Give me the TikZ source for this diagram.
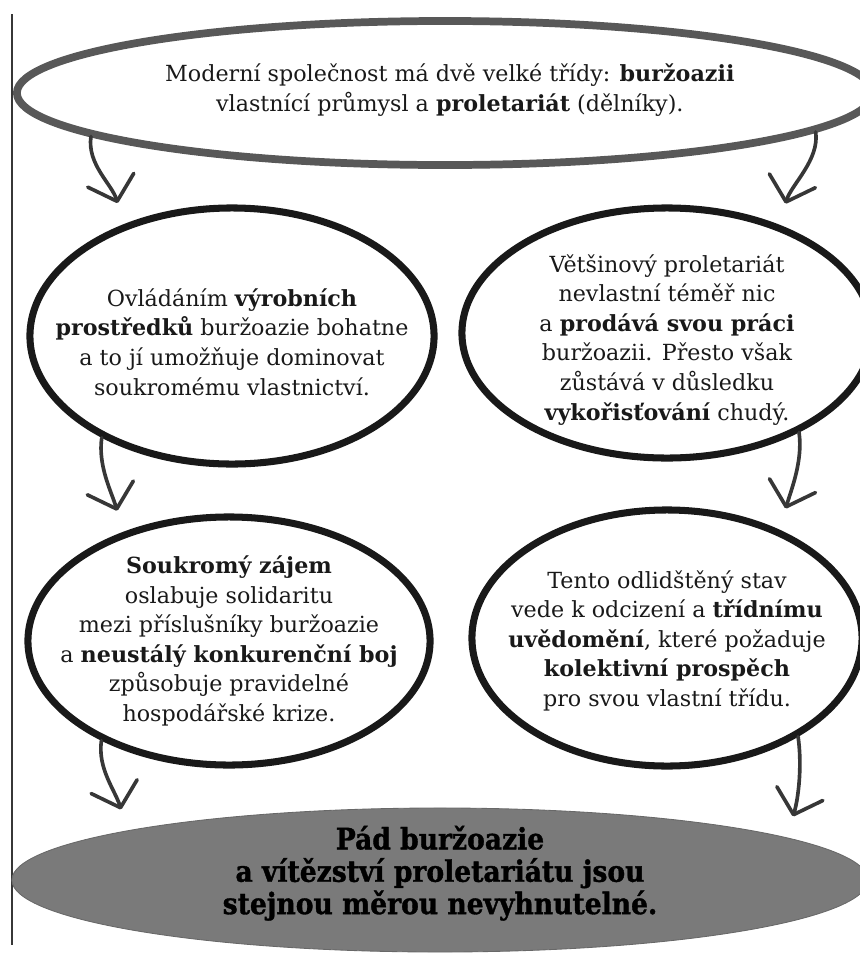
\documentclass[tikz,border=0pt]{standalone}
\usepackage{fontspec}
\setmainfont{DejaVu Serif}
\newfontfamily\heavyfont[FakeStretch=0.9, FakeBold=1.2]{DejaVu Serif}
\usepackage{tikz}
\usetikzlibrary{arrows.meta, shapes.geometric, positioning}
\definecolor{ink}{RGB}{25, 25, 25}
\definecolor{arrowgray}{RGB}{55, 55, 55}
\definecolor{topgray}{RGB}{88, 88, 88}
\definecolor{fillgray}{RGB}{122, 122, 122}
\tikzset{
    ovalnode/.style = {draw=ink, ellipse, line width=5pt, inner sep=0pt},
    topnode/.style = {ovalnode, draw=topgray, line width=5.5pt},
    endnode/.style = {ellipse, fill=fillgray, draw=fillgray!85!black, line width=0.6pt, inner sep=0pt},
    textnode/.style = {draw=none, fill=none, inner sep=0pt, align=center, text=ink,
      font={\fontsize{15.8}{21}\selectfont}},
    bigtextnode/.style = {textnode, text=black, font={\heavyfont\bfseries\fontsize{21}{23}\selectfont}},
    connect/.style = {arrowgray, line width=2.6pt, line cap=round, shorten >=15.6pt,
      -{Straight Barb[length=0.55cm, width=1.2cm, round]}}
}

\begin{document}
\begin{tikzpicture}[x=0.025cm, y=-0.025cm]
\clip (0,0) rectangle (860,955);
\draw[arrowgray, line width=1.4pt] (12,14) -- (12,945);

% ellipses
\node[topnode, name=top, minimum width=21.4cm, minimum height=3.6cm] at (445,93) {};
\node[ovalnode, name=midL, minimum width=10.1cm, minimum height=6.4cm] at (232,336) {};
\node[ovalnode, name=midR, minimum width=10.25cm, minimum height=6.25cm] at (667,333) {};
\node[ovalnode, name=lowL, minimum width=10.05cm, minimum height=6.2cm] at (229,641) {};
\node[ovalnode, name=lowR, minimum width=9.75cm, minimum height=6.4cm] at (667,638) {};
\node[endnode, name=bottom, minimum width=21.4cm, minimum height=3.6cm] at (440,880) {};

% texts
\node[textnode, name=toptext, xshift=0.12cm, yshift=0.07cm] at (top) {Moderní společnost má dvě velké třídy: \textbf{buržoazii}\\
  vlastnící průmysl a \textbf{proletariát} (dělníky).};
\node[textnode, name=midLtext, yshift=-0.15cm] at (midL) {Ovládáním \textbf{výrobních}\\
  \textbf{prostředků} buržoazie bohatne\\ a to jí umožňuje dominovat\\ soukromému vlastnictví.};
\node[textnode, name=midRtext, yshift=-0.17cm] at (midR) {Většinový proletariát\\ nevlastní téměř nic\\
  a \textbf{prodává svou práci}\\ buržoazii. Přesto však\\ zůstává v důsledku\\ \textbf{vykořisťování} chudý.};
\node[textnode, name=lowLtext] at (lowL) {\textbf{Soukromý zájem}\\ oslabuje solidaritu\\
  mezi příslušníky buržoazie\\ a \textbf{neustálý konkurenční boj}\\ způsobuje pravidelné\\ hospodářské krize.};
\node[textnode, name=lowRtext, yshift=-0.07cm] at (lowR) {Tento odlidštěný stav\\ vede k odcizení a \textbf{třídnímu}\\
  \textbf{uvědomění}, které požaduje\\ \textbf{kolektivní prospěch}\\ pro svou vlastní třídu.};
\node[bigtextnode, name=bottomtext, yshift=0.17cm] at (bottom) {Pád buržoazie\\
  a vítězství proletariátu jsou\\ stejnou měrou nevyhnutelné.};

% arrows
\draw[connect] (top.187.5) .. controls +(-4,28) and +(-12,-40) .. (midL.134);
\draw[connect] (top.-6.7) .. controls +(4,28) and +(12,-40) .. (midR.44);
\draw[connect] (midL.218.8) .. controls +(-4,28) and +(-12,-40) .. (lowL.134.4);
\draw[connect] (midR.-37.3) .. controls +(4,28) and +(12,-40) .. (lowR.44.3);
\draw[connect] (lowL.218.2) .. controls +(-4,28) and +(-12,-40) .. (bottom.171.3);
\draw[connect] (lowR.-37.8) .. controls +(4,28) and +(12,-40) .. (bottom.7.7);
\end{tikzpicture}
\end{document}
